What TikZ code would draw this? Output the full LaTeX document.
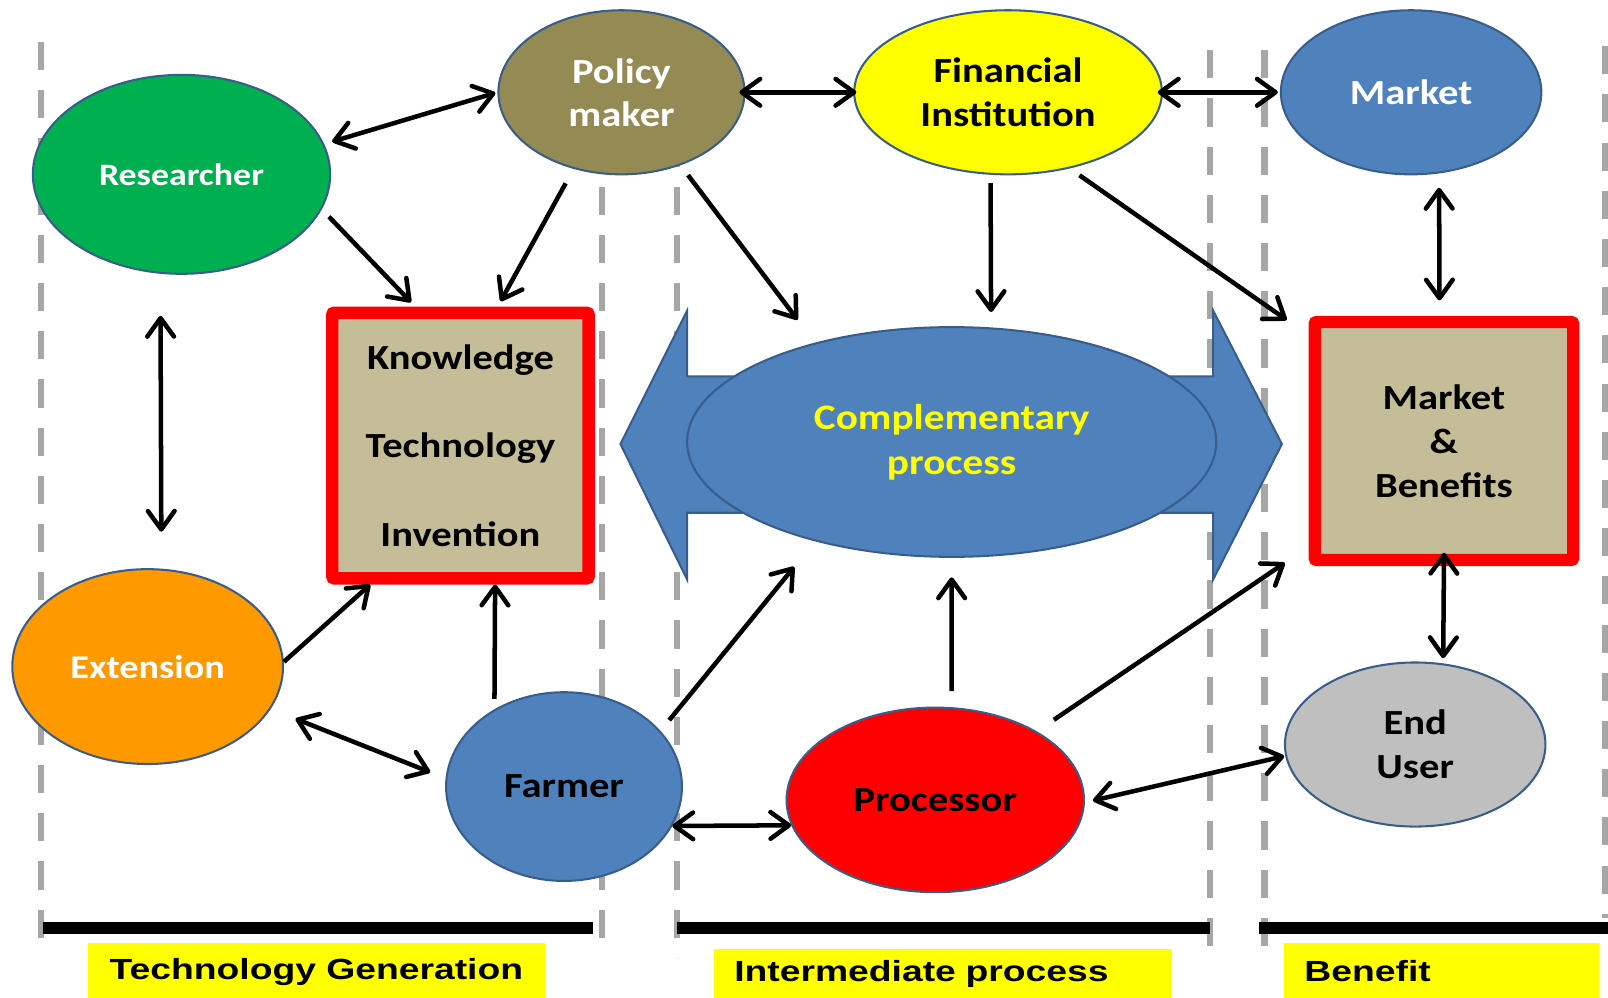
\documentclass[tikz,border=0pt]{standalone}
\usepackage{fontspec}
\setmainfont{Carlito}
\newfontfamily\calfont{Carlito}[FakeStretch=1.15]
\newfontfamily\arifont{Liberation Sans}[FakeStretch=1.28]
\usetikzlibrary{arrows.meta,shapes.geometric}
\definecolor{cgreen}{HTML}{00B050}
\definecolor{colive}{HTML}{948A54}
\definecolor{cyellow}{HTML}{FFFF00}
\definecolor{cblue}{HTML}{4F81BD}
\definecolor{cborder}{HTML}{385D8A}
\definecolor{corange}{HTML}{FF9900}
\definecolor{cred}{HTML}{FF0000}
\definecolor{cgray}{HTML}{BFBFBF}
\definecolor{ctan}{HTML}{C4BD97}
\definecolor{cdash}{HTML}{A6A6A6}
\newcommand\tsz[2]{\fontsize{#1}{#2}\selectfont}
\begin{document}
\begin{tikzpicture}[x=0.5pt,y=-0.5pt,
  ell/.style={ellipse, draw=cborder, line width=1pt, inner sep=0pt, align=center},
  kbox/.style={rectangle, draw=cred, line width=6pt, fill=ctan, inner sep=0pt, align=center, rounded corners=1pt},
  nfont/.style={font=\calfont\bfseries\tsz{17.2}{21.5}},
  arr/.style={line width=2.2pt, -{Straight Barb[length=9pt,width=13pt,round]}},
  dbl/.style={line width=2.2pt, {Straight Barb[length=9pt,width=13pt,round]}-{Straight Barb[length=9pt,width=13pt,round]}},
  sepline/.style={draw=cdash, line width=3pt, dash pattern=on 13.7pt off 9.8pt},
  bar/.style={line width=6pt},
  lab/.style={fill=cyellow, inner xsep=10pt, inner ysep=0pt, font=\arifont\bfseries\tsz{14.2}{17}, text=black}]
\useasboundingbox (0,0) rectangle (1568,973);
% separator lines
\draw[sepline] (40,41) -- (40,926);
\draw[sepline] (587,41) -- (587,926);
\draw[sepline] (660,41) -- (660,934);
\draw[sepline] (1180,49) -- (1180,934);
\draw[sepline] (1233,49) -- (1233,934);
\draw[sepline] (1565,45) -- (1565,895);
% bars
\draw[bar] (42,905) -- (578,905);
\draw[bar] (660,905) -- (1180,905);
\draw[bar] (1228,905) -- (1568,905);
% labels
\node[lab, minimum width=222.5pt, minimum height=26.5pt, text depth=1.5pt] (lg) at (308.5,946.5) {Technology Generation};
\node[lab, text width=203.5pt, align=left, minimum height=25pt] (li) at (919.5,950) {Intermediate process};
\node[lab, text width=133.5pt, align=left, minimum height=26.5pt] (lb) at (1405.5,946.5) {Benefit};
% big double arrow
\draw[fill=cblue, draw=cborder, line width=1pt] (605,433) -- (670,303) -- (670,367) -- (1183,367) -- (1183,303) -- (1250,433) -- (1183,565) -- (1183,500) -- (670,500) -- (670,565) -- cycle;
% nodes
\node[ell, fill=cgreen, text=white, minimum width=145pt, minimum height=97pt, font=\calfont\bfseries\tsz{15.2}{18}] (res) at (177,170) {Researcher};
\node[ell, fill=colive, text=white, minimum width=120pt, minimum height=80pt, font=\calfont\bfseries\tsz{17.2}{21}] (pol) at (606,90) {Policy\\maker};
\node[ell, nfont, fill=cyellow, text=black, minimum width=150pt, minimum height=80pt] (fin) at (983,90) {Financial\\Institution};
\node[ell, nfont, fill=cblue, text=white, minimum width=127pt, minimum height=80pt] (mkt) at (1376,90) {Market};
\node[ell, fill=cblue, text=cyellow, minimum width=258pt, minimum height=112pt, font=\calfont\bfseries\tsz{17.5}{22}] (cp) at (928,431) {Complementary\\process};
\node[kbox, minimum width=125pt, minimum height=129.5pt, font=\calfont\bfseries\tsz{17.2}{43.25}] (kno) at (449,434.5) {Knowledge\\Technology\\Invention};
\node[kbox, nfont, minimum width=126pt, minimum height=116pt] (mb) at (1408,430) {Market\\\&\\Benefits};
\node[ell, fill=corange, text=white, minimum width=132pt, minimum height=95pt, font=\calfont\bfseries\tsz{16.2}{20}] (ext) at (144,650) {Extension};
\node[ell, nfont, fill=cblue, text=black, minimum width=115pt, minimum height=92pt] (far) at (550,767) {Farmer};
\node[ell, nfont, fill=cred, text=black, minimum width=145pt, minimum height=90pt] (pro) at (912,780) {Processor};
\node[ell, nfont, fill=cgray, text=black, minimum width=127pt, minimum height=80pt] (endu) at (1380,726) {End\\User};
% connectors
\draw[dbl, shorten <=4pt, shorten >=1pt] (res.12) -- (pol.west);
\draw[dbl, shorten <=-3pt, shorten >=-1.5pt] (pol.east) -- (fin.west);
\draw[dbl, shorten <=-2.5pt, shorten >=1pt] (fin.east) -- (mkt.west);
\draw[arr, shorten <=5pt, shorten >=3pt] (res.-14) -- (kno.108);
\draw[arr, shorten <=8pt, shorten >=3pt] (pol.-122) -- (kno.75);
\draw[arr, shorten <=6pt, shorten >=14pt] (pol.-51) -- (cp.144);
\draw[arr, shorten <=4pt, shorten >=7.5pt] (fin.-102) -- (cp.71);
\draw[arr, shorten <=5.8pt, shorten >=13pt] (fin.-51) -- (mb.142);
\draw[dbl, shorten <=7pt, shorten >=7.5pt] (mkt.-71) -- (mb.92);
\draw[dbl, shorten <=20.5pt, shorten >=18pt] (res.-102) -- (ext.82);
\draw[arr] (ext.2) -- (kno.-123);
\draw[arr, shorten <=5pt] (far.132) -- (kno.-76);
\draw[dbl, shorten <=13pt, shorten >=8pt] (ext.-19) -- (far.176);
\draw[arr, shorten <=6.7pt, shorten >=16pt] (far.30) -- (cp.-144);
\draw[arr, shorten <=7.75pt, shorten >=9.5pt] (pro.80) -- (cp.south);
\draw[arr, shorten <=10pt, shorten >=14pt] (pro.34) -- (mb.-142);
\draw[dbl] (far.-20) -- (pro.190);
\draw[dbl, shorten <=4pt, shorten >=0.5pt] (pro.-1) -- (endu.-175);
\draw[dbl, shorten <=-6.5pt, shorten >=2.5pt] (mb.south) -- (endu.71);
\end{tikzpicture}
\end{document}
